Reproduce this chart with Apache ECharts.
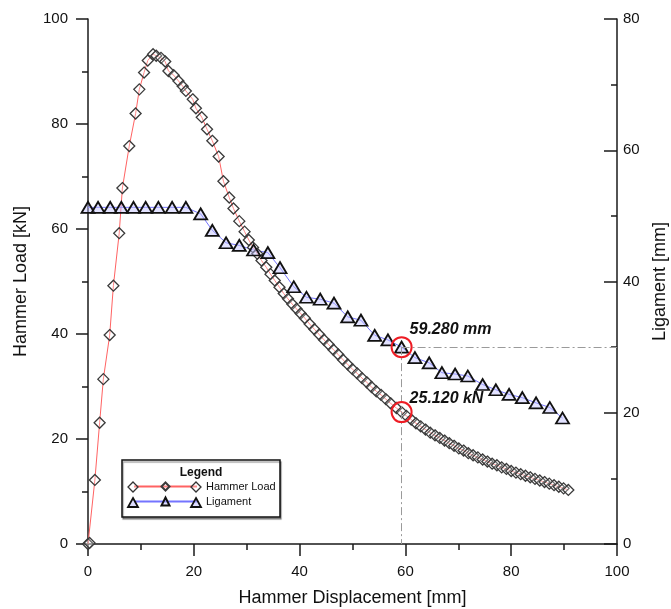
<!DOCTYPE html>
<html>
<head>
<meta charset="UTF-8">
<title>Hammer Load / Ligament</title>
<script src="https://cdn.jsdelivr.net/npm/echarts@6/dist/echarts.min.js"></script>
<style>
  html, body { margin: 0; padding: 0; background: #fff; }
  #main { width: 671px; height: 609px; }
</style>
</head>
<body>
<div id="main"></div>
<script>
// Hammer load curve [mm, kN]
var hammerX = [0.0, 0.3, 1.3, 2.2, 2.9, 4.1, 4.8, 5.9, 6.5, 7.8, 9.0, 9.7, 10.6, 11.3, 12.3, 12.9, 13.8, 14.6,
  15.2, 16.2, 17.1, 17.9, 18.5, 19.8, 20.4, 21.5, 22.5, 23.5, 24.7, 25.6, 26.7, 27.5, 28.6, 29.6, 30.4, 31.2,
  32.0, 32.8, 33.7, 34.5, 35.3, 36.2, 37.0, 37.8, 38.6, 39.4, 40.2, 41.0, 41.9, 42.8, 43.7, 44.6, 45.5, 46.4,
  47.3, 48.2, 49.1, 50.0, 50.9, 51.8, 52.7, 53.6, 54.5, 55.4, 56.3, 57.2, 58.3, 59.28, 60.2, 61.1, 62.0, 62.9,
  63.8, 64.7, 65.6, 66.5, 67.4, 68.3, 69.2, 70.1, 71.0, 71.9, 72.8, 73.7, 74.6, 75.5, 76.4, 77.3, 78.2, 79.1,
  80.0, 80.9, 81.8, 82.7, 83.6, 84.5, 85.4, 86.3, 87.2, 88.1, 89.0, 89.9, 90.8];
var hammerY = [0.0, 0.2, 12.2, 23.1, 31.4, 39.8, 49.2, 59.2, 67.8, 75.8, 82.0, 86.6, 89.8, 92.1, 93.3, 93.0, 92.6, 91.9,
  90.1, 89.3, 88.2, 87.2, 86.3, 84.7, 83.0, 81.3, 79.0, 76.8, 73.8, 69.1, 66.0, 63.9, 61.5, 59.5, 57.9, 56.5,
  55.3, 54.0, 52.7, 51.4, 50.2, 48.9, 47.7, 46.7, 45.7, 44.8, 43.9, 43.0, 41.9, 40.9, 39.9, 38.9, 38.0, 37.0,
  36.1, 35.1, 34.2, 33.3, 32.5, 31.6, 30.8, 29.9, 29.1, 28.4, 27.6, 26.8, 25.9, 25.12, 24.4, 23.7, 23.0, 22.4,
  21.8, 21.2, 20.7, 20.2, 19.7, 19.2, 18.7, 18.2, 17.8, 17.3, 16.9, 16.5, 16.1, 15.7, 15.3, 15.0, 14.6, 14.3,
  13.9, 13.6, 13.3, 13.0, 12.7, 12.4, 12.1, 11.8, 11.5, 11.2, 10.9, 10.6, 10.3];

// Ligament curve [mm, mm]
var ligX = [0.0, 1.9, 4.2, 6.3, 8.6, 10.9, 13.3, 15.9, 18.5, 21.3, 23.5, 26.1, 28.6, 31.3, 34.0, 36.3, 38.9, 41.3,
  43.9, 46.5, 49.1, 51.6, 54.2, 56.7, 59.28, 61.8, 64.5, 66.9, 69.4, 71.8, 74.6, 77.1, 79.6, 82.1, 84.7, 87.3, 89.7];
var ligY = [51.3, 51.3, 51.3, 51.3, 51.3, 51.3, 51.3, 51.3, 51.3, 50.3, 47.8, 45.9, 45.5, 44.8, 44.4, 42.1, 39.2, 37.6,
  37.3, 36.7, 34.6, 34.1, 31.8, 31.1, 30.0, 28.4, 27.6, 26.1, 25.9, 25.6, 24.3, 23.5, 22.8, 22.3, 21.5, 20.8, 19.2];

var hammerPick = 67;   // index of 59.28 mm in hammerX
var ligPick = 24;      // index of 59.28 mm in ligX
var pickLabels = ['59.280 mm', '25.120 kN'];

var FONT = 'Liberation Sans, Arial, sans-serif';
var AX = '#1a1a1a';

function pairs(xs, ys) {
  var out = [];
  for (var i = 0; i < xs.length; i++) out.push([xs[i], ys[i]]);
  return out;
}

var chart = echarts.init(document.getElementById('main'));

var axisCommon = {
  splitLine: { show: false },
  axisLine: { show: true, lineStyle: { color: AX, width: 1.5 } },
  axisTick: { show: true, length: 12, lineStyle: { color: AX, width: 1.5 } },
  minorTick: { show: true, splitNumber: 2, length: 6, lineStyle: { color: AX, width: 1.5 } },
  nameLocation: 'middle',
  nameTextStyle: { fontSize: 18, color: '#111', fontFamily: FONT }
};

var option = {
  animation: false,
  backgroundColor: '#fff',
  grid: { left: 88, right: 54, top: 19, bottom: 65, containLabel: false, outerBoundsMode: 'none' },
  xAxis: Object.assign({}, axisCommon, {
    type: 'value', min: 0, max: 100, interval: 20,
    axisLabel: { margin: 20, fontSize: 15, color: '#111', fontFamily: FONT },
    name: 'Hammer Displacement [mm]', nameGap: 45
  }),
  yAxis: [
    Object.assign({}, axisCommon, {
      type: 'value', min: 0, max: 100, interval: 20, position: 'left',
      axisLabel: { margin: 20, fontSize: 15, color: '#111', fontFamily: FONT },
      name: 'Hammer Load [kN]', nameGap: 58
    }),
    Object.assign({}, axisCommon, {
      type: 'value', min: 0, max: 80, interval: 20, position: 'right',
      axisTick: { show: true, inside: true, length: 13, lineStyle: { color: AX, width: 1.5 } },
      axisLabel: { margin: 6, fontSize: 15, color: '#111', fontFamily: FONT },
      name: 'Ligament [mm]', nameGap: 32
    })
  ],
  legend: {
    left: 133, top: 481, orient: 'vertical', padding: 0,
    itemWidth: 63, itemHeight: 10, itemGap: 4,
    textStyle: { fontSize: 11, color: '#111', fontFamily: FONT, padding: [0, 0, 0, 4] },
    data: ['Hammer Load', 'Ligament']
  },
  graphic: [
    { type: 'rect', z: 1, shape: { x: 122, y: 460, width: 158, height: 57 },
      style: { fill: '#fff', stroke: '#111', lineWidth: 1.5, shadowColor: 'rgba(0,0,0,0.35)', shadowOffsetX: 1, shadowOffsetY: 2, shadowBlur: 1 } },
    { type: 'text', z: 2, style: { x: 201, y: 473, text: 'Legend', fontSize: 12, fontWeight: 'bold', fontFamily: FONT, fill: '#111', align: 'center', verticalAlign: 'middle' } },
    { type: 'polygon', z: 10, shape: { points: [[133, 482], [138, 487], [133, 492], [128, 487]] }, style: { fill: 'rgba(255,255,255,0.3)', stroke: '#333', lineWidth: 1.3 } },
    { type: 'polygon', z: 10, shape: { points: [[196, 482], [201, 487], [196, 492], [191, 487]] }, style: { fill: 'rgba(255,255,255,0.3)', stroke: '#333', lineWidth: 1.3 } },
    { type: 'polygon', z: 10, shape: { points: [[133, 498], [138, 507], [128, 507]] }, style: { fill: 'rgba(190,190,255,0.5)', stroke: '#111', lineWidth: 1.8 } },
    { type: 'polygon', z: 10, shape: { points: [[196, 498], [201, 507], [191, 507]] }, style: { fill: 'rgba(190,190,255,0.5)', stroke: '#111', lineWidth: 1.8 } }
  ],
  series: [
    {
      name: 'Hammer Load', type: 'line', yAxisIndex: 0,
      data: pairs(hammerX, hammerY),
      symbol: 'diamond', symbolSize: [11, 11], showAllSymbol: true,
      lineStyle: { color: '#ff6262', width: 1 },
      itemStyle: { color: 'rgba(255,255,255,0.25)', borderColor: '#3a3a3a', borderWidth: 1.3 },
      markPoint: {
        symbol: 'circle', symbolSize: 20, silent: true,
        itemStyle: { color: 'rgba(0,0,0,0)', borderColor: '#ee1c24', borderWidth: 2 },
        label: { show: true, position: [19, -3], formatter: pickLabels[1], fontSize: 16, fontWeight: 'bold', fontStyle: 'italic', color: '#111', fontFamily: FONT, verticalAlign: 'middle', align: 'left' },
        data: [{ coord: [hammerX[hammerPick], hammerY[hammerPick]] }]
      }
    },
    {
      name: 'Ligament', type: 'line', yAxisIndex: 1,
      data: pairs(ligX, ligY),
      symbol: 'triangle', symbolSize: [13, 11], showAllSymbol: true,
      lineStyle: { color: '#7474ff', width: 1 },
      itemStyle: { color: 'rgba(190,190,255,0.45)', borderColor: '#111', borderWidth: 1.8 },
      markPoint: {
        symbol: 'circle', symbolSize: 20, silent: true,
        itemStyle: { color: 'rgba(0,0,0,0)', borderColor: '#ee1c24', borderWidth: 2 },
        label: { show: true, position: [19, -7], formatter: pickLabels[0], fontSize: 16, fontWeight: 'bold', fontStyle: 'italic', color: '#111', fontFamily: FONT, verticalAlign: 'middle', align: 'left' },
        data: [{ coord: [ligX[ligPick], ligY[ligPick]] }]
      },
      markLine: {
        silent: true, symbol: 'none', animation: false,
        label: { show: false },
        lineStyle: { color: '#9a9a9a', width: 1, type: [8, 3, 2, 3] },
        data: [
          [{ coord: [ligX[ligPick], ligY[ligPick]] }, { coord: [100, ligY[ligPick]] }],
          [{ coord: [ligX[ligPick], ligY[ligPick]] }, { coord: [ligX[ligPick], 0] }]
        ]
      }
    }
  ]
};

chart.setOption(option);
</script>
</body>
</html>
